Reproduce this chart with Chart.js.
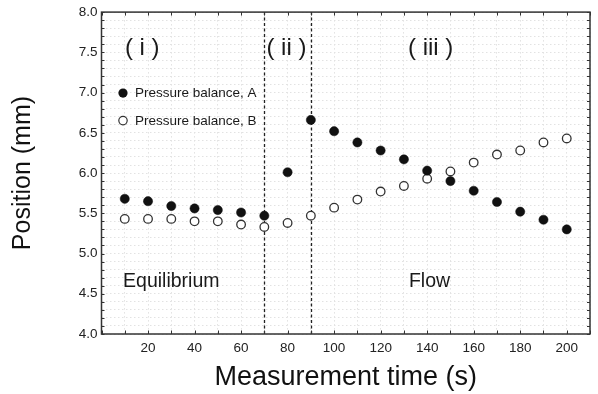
<!DOCTYPE html>
<html>
<head>
<meta charset="utf-8">
<script src="https://cdn.jsdelivr.net/npm/chart.js@4.4.1/dist/chart.umd.min.js"></script>
<style>
html,body{margin:0;padding:0;background:#fff;}
#wrap{width:598px;height:394px;}
</style>
</head>
<body>
<div id="wrap"><canvas id="c" width="598" height="394"></canvas></div>
<script>
// ---- data ----
const times = [10,20,30,40,50,60,70,80,90,100,110,120,130,140,150,160,170,180,190,200];
const balanceA = [5.68,5.65,5.59,5.56,5.54,5.51,5.47,6.01,6.66,6.52,6.38,6.28,6.17,6.03,5.90,5.78,5.64,5.52,5.42,5.30];
const balanceB = [5.43,5.43,5.43,5.40,5.40,5.36,5.33,5.38,5.47,5.57,5.67,5.77,5.84,5.93,6.02,6.13,6.23,6.28,6.38,6.43];
const seriesNames = ['Pressure balance, A','Pressure balance, B'];
const phaseBoundaries = [70, 90];
const phaseLabels = ['( i )','( ii )','( iii )'];
const regimeLabels = ['Equilibrium','Flow'];
const xTickLabels = [20,40,60,80,100,120,140,160,180,200];
const yTickLabels = ['4.0','4.5','5.0','5.5','6.0','6.5','7.0','7.5','8.0'];

const FONT = '"Liberation Sans", Arial, Helvetica, sans-serif';

const ptsA = times.map((t,i)=>({x:t,y:balanceA[i]}));
const ptsB = times.map((t,i)=>({x:t,y:balanceB[i]}));

const decor = {
  id:'decor',
  beforeDatasetsDraw(chart){
    const {ctx, chartArea:a, scales:{x,y}} = chart;
    ctx.save();
    ctx.strokeStyle = '#222';
    ctx.lineWidth = 1.3;
    ctx.setLineDash([3,2.5]);
    phaseBoundaries.forEach(v=>{
      const px = Math.round(x.getPixelForValue(v))+0.5;
      ctx.beginPath(); ctx.moveTo(px,a.top); ctx.lineTo(px,a.bottom); ctx.stroke();
    });
    ctx.restore();
  },
  afterDatasetsDraw(chart){
    const {ctx, chartArea:a, scales:{x,y}} = chart;
    ctx.save();
    // frame
    ctx.strokeStyle = '#333';
    ctx.lineWidth = 1.5;
    ctx.setLineDash([]);
    ctx.strokeRect(a.left, a.top, a.right-a.left, a.bottom-a.top);
    // inward ticks
    ctx.lineWidth = 1;
    ctx.beginPath();
    x.ticks.forEach(t=>{
      const px = Math.round(x.getPixelForValue(t.value))+0.5;
      ctx.moveTo(px,a.bottom); ctx.lineTo(px,a.bottom-3.5);
      ctx.moveTo(px,a.top); ctx.lineTo(px,a.top+3.5);
    });
    y.ticks.forEach(t=>{
      const py = Math.round(y.getPixelForValue(t.value))+0.5;
      ctx.moveTo(a.left,py); ctx.lineTo(a.left+3,py);
      ctx.moveTo(a.right,py); ctx.lineTo(a.right-3,py);
    });
    ctx.stroke();

    // phase labels
    ctx.fillStyle = '#1a1a1a';
    ctx.textAlign = 'center';
    ctx.textBaseline = 'middle';
    ctx.font = '24px ' + FONT;
    const phaseX = [17.5, 79.5, 141.5];
    phaseLabels.forEach((s,i)=>{
      ctx.fillText(s, x.getPixelForValue(phaseX[i]), y.getPixelForValue(7.55));
    });
    // regime labels
    ctx.font = '19.5px ' + FONT;
    const regX = [30, 141];
    regimeLabels.forEach((s,i)=>{
      ctx.fillText(s, x.getPixelForValue(regX[i]), y.getPixelForValue(4.65));
    });
    // legend
    const rows = [a.top+81, a.top+108.5];
    ctx.font = '13.5px ' + FONT;
    ctx.textAlign = 'left';
    rows.forEach((ry,i)=>{
      const mx = a.left+21.5;
      ctx.beginPath();
      ctx.arc(mx, ry, i===0?4.6:4.2, 0, Math.PI*2);
      if(i===0){ ctx.fillStyle='#111'; ctx.fill(); }
      else { ctx.fillStyle='#fff'; ctx.fill(); ctx.strokeStyle='#333'; ctx.lineWidth=1.2; ctx.stroke(); }
      ctx.fillStyle='#1a1a1a';
      ctx.fillText(seriesNames[i], a.left+33.5, ry+0.5);
    });
    ctx.restore();
  }
};

new Chart(document.getElementById('c'), {
  type:'scatter',
  data:{
    datasets:[
      {label:seriesNames[0], data:ptsA, backgroundColor:'#111', borderColor:'#111', borderWidth:0.5, pointRadius:4.6, pointHoverRadius:4.6},
      {label:seriesNames[1], data:ptsB, backgroundColor:'#fff', borderColor:'#333', borderWidth:1.3, pointRadius:4.3, pointHoverRadius:4.3}
    ]
  },
  options:{
    responsive:false,
    animation:false,
    devicePixelRatio:1,
    layout:{padding:{top:11, right:8, left:0, bottom:0}},
    plugins:{legend:{display:false}, tooltip:{enabled:false}},
    scales:{
      x:{
        type:'linear', min:0, max:210,
        afterFit(s){ s.height = 60; },
        border:{display:false, dash:[1.5,2.5]},
        grid:{color:'#e2e2e2', lineWidth:1, drawTicks:false},
        ticks:{
          stepSize:10, autoSkip:false, maxRotation:0, padding:6,
          color:'#222', font:{family:FONT, size:13.5},
          callback:(v)=> xTickLabels.includes(v) ? String(v) : ''
        },
        title:{display:true, text:'Measurement time (s)', color:'#111', font:{family:FONT, size:27}, padding:{top:0,bottom:0}}
      },
      y:{
        type:'linear', min:4, max:8,
        afterFit(s){ s.width = 101.5; },
        border:{display:false, dash:[1.5,2.5]},
        grid:{color:'#e2e2e2', lineWidth:1, drawTicks:false},
        ticks:{
          stepSize:0.1, autoSkip:false, padding:4,
          color:'#222', font:{family:FONT, size:13.5},
          callback:(v)=>{ const s = (Math.round(v*10)/10).toFixed(1); return yTickLabels.includes(s) && Math.round(v*10)%5===0 ? s : ''; }
        },
        title:{display:true, text:'Position (mm)', color:'#111', font:{family:FONT, size:25}, padding:{top:8,bottom:0}}
      }
    }
  },
  plugins:[decor]
});
</script>
</body>
</html>
